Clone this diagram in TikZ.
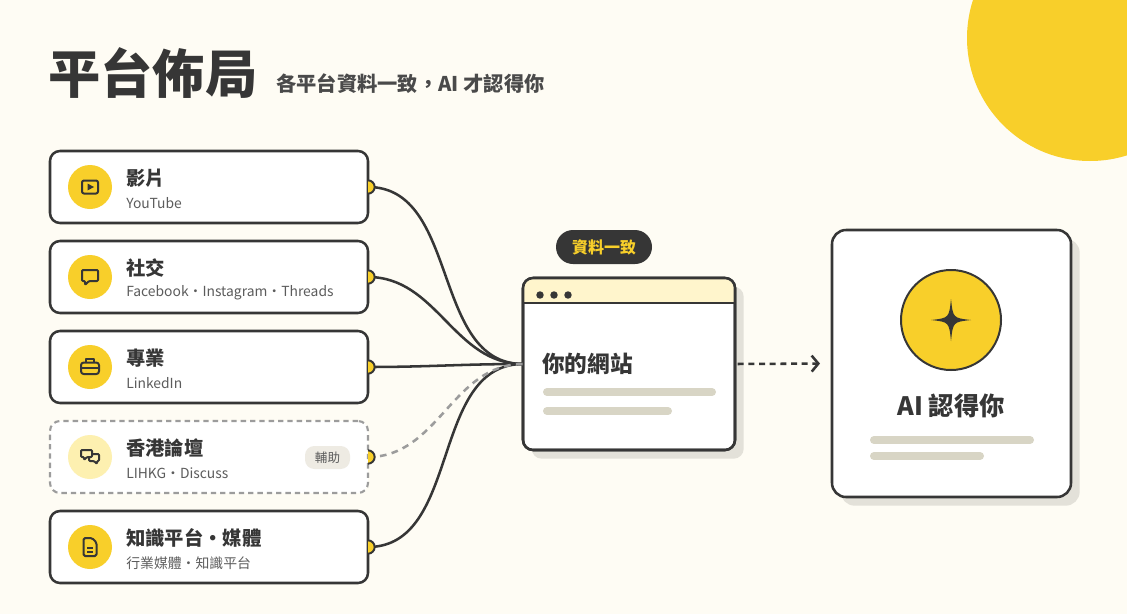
\documentclass[tikz,border=0pt]{standalone}
\usepackage{fontspec}
\setmainfont{Noto Sans CJK TC}
\usetikzlibrary{arrows.meta,positioning,shadows}

\definecolor{ink}{HTML}{363636}
\definecolor{paper}{HTML}{FEFCF4}
\definecolor{sun}{HTML}{F8CF2A}
\definecolor{sunpale}{HTML}{FDF0B0}
\definecolor{header}{HTML}{FFF5CC}
\definecolor{bar}{HTML}{D8D5C5}
\definecolor{shade}{HTML}{E3E1D9}
\definecolor{muted}{HTML}{5C5C5C}
\definecolor{aux}{HTML}{9C9C9C}
\definecolor{tagbg}{HTML}{EEEBE3}

\tikzset{
  card/.style={draw=ink, fill=white, line width=1.9pt, rounded corners=7.5pt,
    minimum width=238.5pt, minimum height=54pt, inner sep=0pt, outer sep=0pt},
  cardaux/.style={card, draw=aux, line width=1.6pt, dash pattern=on 4pt off 3pt},
  iconbg/.style={circle, fill=sun, minimum size=33pt, inner sep=0pt},
  iconbgaux/.style={iconbg, fill=sunpale},
  icon/.style={draw=ink, line width=1.5pt, line join=round},
  cardtitle/.style={anchor=west, inner sep=0pt, text=ink, font=\fontsize{14.5}{17}\selectfont\bfseries},
  cardsub/.style={anchor=west, inner sep=0pt, text=muted, font=\fontsize{10.4}{12}\selectfont},
  tag/.style={fill=tagbg, rounded corners=7pt, minimum width=33.75pt, minimum height=17.25pt,
    inner sep=0pt, text=muted, font=\fontsize{9.4}{11}\selectfont},
  link/.style={draw=ink, line width=1.9pt},
  linkaux/.style={draw=aux, line width=1.9pt, dash pattern=on 5pt off 4pt},
  port/.style={fill=sun, draw=ink, line width=1.5pt},
  box/.style={draw=ink, fill=white, line width=1.9pt, outer sep=0pt, inner sep=0pt,
    drop shadow={shadow xshift=6.5pt, shadow yshift=-6.5pt, fill=shade, opacity=1}},
  badge/.style={fill=ink, rounded corners=12.75pt, minimum width=72pt, minimum height=25.5pt,
    inner sep=0pt, text=sun, font=\fontsize{12}{14}\selectfont\bfseries},
  bartext/.style={draw=bar, line width=6pt, line cap=round},
  flow/.style={draw=ink, line width=1.9pt, dash pattern=on 4.5pt off 3.5pt,
    -{Straight Barb[length=5pt, width=12pt, line width=1.9pt]}},
  pics/playicon/.style={code={
    \draw[icon, rounded corners=1.5pt] (-8,-6.5) rectangle (8,6.5);
    \fill[ink] (-2.5,-3.5) -- (4,0) -- (-2.5,3.5) -- cycle;
  }},
  pics/chaticon/.style={code={
    \draw[icon, rounded corners=0.8pt] (-8,-7) -- (8,-7) -- (8,4) -- (-1,4) -- (-5,8) -- (-5,4) -- (-8,4) -- cycle;
  }},
  pics/caseicon/.style={code={
    \draw[icon, rounded corners=2pt] (-9,-4.5) rectangle (9,7);
    \draw[icon] (-4,-4.5) -- (-4,-8) -- (4,-8) -- (4,-4.5);
    \draw[icon] (-9,1) -- (9,1);
  }},
  pics/forumicon/.style={code={
    \draw[icon, rounded corners=0.8pt] (-9,-7) -- (2,-7) -- (2,0) -- (-3,0) -- (-6,3) -- (-6,0) -- (-9,0) -- cycle;
    \draw[icon, rounded corners=0.8pt] (2,-3) -- (9,-3) -- (9,4) -- (7,4) -- (7,7) -- (4,4) -- (-1,4) -- (-1,0);
  }},
  pics/docicon/.style={code={
    \draw[icon, rounded corners=1.2pt] (-6.5,-9) -- (2,-9) -- (6.5,-4.5) -- (6.5,9) -- (-6.5,9) -- cycle;
    \draw[icon] (-3,1) -- (3,1);
    \draw[icon] (-3,4.5) -- (3,4.5);
  }},
}

\begin{document}
\begin{tikzpicture}[x=0.75pt, y=-0.75pt]
\useasboundingbox[fill=paper] (0,0) rectangle (1127,614);
\begin{scope}
  \clip (0,0) rectangle (1127,614);
  \fill[sun] (1090,38) circle[radius=92.25pt];
\end{scope}

% title
\node[anchor=west, inner sep=0pt, text=ink, font=\fontsize{39.2}{45}\selectfont\bfseries] (title) at (48,73) {平台佈局};
\node[anchor=west, inner sep=0pt, text=ink!90, font=\fontsize{15.2}{18}\selectfont\bfseries] (subtitle) at (276,84) {各平台資料一致，AI 才認得你};

% platform cards
\foreach \id/\y/\st/\bg/\ic/\ttl/\sub in {
    yt/187/card/iconbg/playicon/影片/YouTube,
    social/277/card/iconbg/chaticon/社交/Facebook・Instagram・Threads,
    pro/367/card/iconbg/caseicon/專業/LinkedIn,
    forum/457/cardaux/iconbgaux/forumicon/香港論壇/LIHKG・Discuss,
    media/547/card/iconbg/docicon/知識平台・媒體/行業媒體・知識平台} {
  \node[\st] (\id) at (209,\y) {};
  \node[\bg] (\id-icon) at (90,\y) {};
  \pic at (90,\y) {\ic};
  \node[cardtitle] (\id-title) at (126,\y-9) {\ttl};
  \node[cardsub] (\id-sub) at (126,\y+16) {\sub};
}
\node[tag] (forum-tag) at (327.5,457.5) {輔助};

% website
\node[badge] (consistent) at (604,247) {資料一致};
\node[box, rounded corners=7.5pt, minimum width=159pt, minimum height=129pt] (site) at (629,364) {};
\begin{scope}
  \clip[rounded corners=7.5pt] (site.north west) rectangle (site.south east);
  \fill[header] (523,278) rectangle (735,303);
\end{scope}
\draw[ink, line width=1.9pt, rounded corners=7.5pt] (site.north west) rectangle (site.south east);
\draw[ink, line width=1.9pt] (523,303) -- (735,303);
\foreach \x in {540,554,568} \fill[ink] (\x,295) circle[radius=2.8pt];
\node[anchor=west, inner sep=0pt, text=ink, font=\fontsize{17}{20}\selectfont\bfseries] (site-title) at (542,364) {你的網站};
\draw[bartext] (547,392) -- (712,392);
\draw[bartext] (547,411) -- (668,411);

% AI card
\node[box, rounded corners=10.5pt, minimum width=179.25pt, minimum height=200.25pt] (ai) at (951.5,363.5) {};
\node[circle, fill=sun, draw=ink, line width=1.5pt, minimum size=75pt, inner sep=0pt] (spark) at (951,320) {};
\fill[ink] (951,299) .. controls (953,318) .. (971,320) .. controls (953,322) .. (951,341)
  .. controls (949,322) .. (931,320) .. controls (949,318) .. cycle;
\node[inner sep=0pt, text=ink, font=\fontsize{19}{22}\selectfont\bfseries] (ai-title) at (951,406) {AI 認得你};
\draw[bartext] (874,440) -- (1030,440);
\draw[bartext] (874,456) -- (980,456);

% connectors
\foreach \id in {yt,social,pro,media}
  \draw[link] (\id.east) to[out=0, in=180] (site.west);
\draw[linkaux] (forum.east) to[out=0, in=180] (site.west);
\foreach \id in {yt,social,pro,forum,media}
  \filldraw[port] ([yshift=5pt]\id.east) arc[start angle=90, end angle=-90, radius=5pt];
\draw[flow, shorten <=2pt, shorten >=9pt] (site.east) -- (ai.west);
\end{tikzpicture}
\end{document}
